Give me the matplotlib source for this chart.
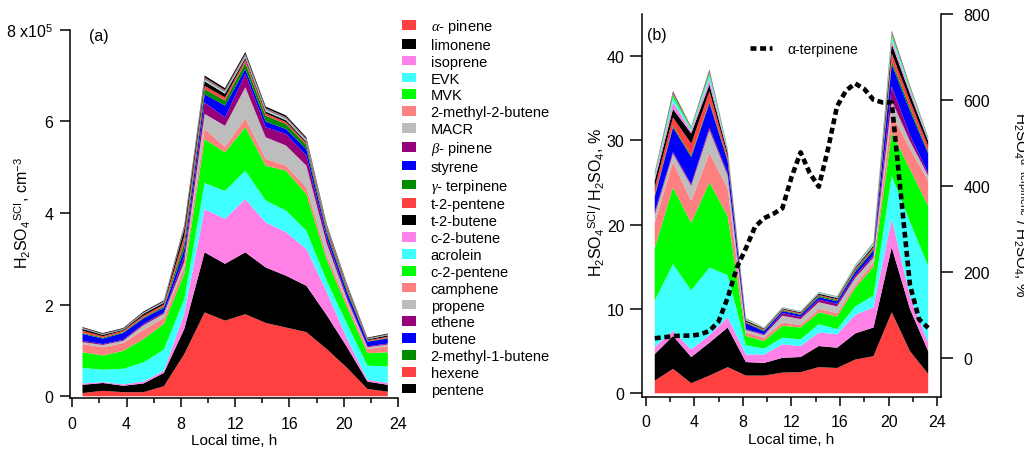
import numpy as np
import matplotlib
matplotlib.use('Agg')
import matplotlib.pyplot as plt
from matplotlib.patches import Patch
from matplotlib.lines import Line2D
from matplotlib.ticker import MultipleLocator

plt.rcParams['font.family'] = ['Liberation Sans', 'DejaVu Sans']
plt.rcParams['mathtext.fontset'] = 'custom'
plt.rcParams['mathtext.rm'] = 'Liberation Sans'
plt.rcParams['mathtext.it'] = 'Liberation Serif:italic'
plt.rcParams['mathtext.bf'] = 'Liberation Sans:bold'
plt.rcParams['mathtext.sf'] = 'Liberation Sans'

# ---------------- data ----------------
hours = [0.75, 2.25, 3.75, 5.25, 6.75, 8.25, 9.75, 11.25, 12.75, 14.25, 15.75, 17.25, 18.75, 20.25, 21.75, 23.25]

species = [r'$\alpha$- pinene', 'limonene', 'isoprene', 'EVK', 'MVK', '2-methyl-2-butene', 'MACR',
           r'$\beta$- pinene', 'styrene', r'$\gamma$- terpinene', 't-2-pentene', 't-2-butene',
           'c-2-butene', 'acrolein', 'c-2-pentene', 'camphene', 'propene', 'ethene', 'butene',
           '2-methyl-1-butene', 'hexene', 'pentene']

colors = ['#ff4040', '#000000', '#ff80e6', '#40ffff', '#00ff00', '#ff8080', '#bdbdbd', '#960078',
          '#0000ff', '#008c00', '#ff4040', '#000000', '#ff80e6', '#40ffff', '#00ff00', '#ff8080',
          '#bdbdbd', '#960078', '#0000ff', '#008c00', '#ff4040', '#000000']

# Panel (a): H2SO4 from SCI, units of 1e5 cm^-3
a_alpha_pinene = [0.07, 0.12, 0.09, 0.09, 0.22, 0.92, 1.83, 1.65, 1.79, 1.60, 1.50, 1.40, 1.03, 0.62, 0.16, 0.10]
a_limonene     = [0.18, 0.17, 0.14, 0.19, 0.29, 0.55, 1.31, 1.24, 1.35, 1.21, 1.13, 1.01, 0.74, 0.45, 0.16, 0.15]
a_isoprene     = [0.03, 0.02, 0.03, 0.04, 0.05, 0.33, 0.94, 0.98, 1.16, 0.98, 0.95, 0.80, 0.51, 0.18, 0.04, 0.04]
a_evk          = [0.34, 0.27, 0.34, 0.42, 0.46, 0.32, 0.57, 0.61, 0.62, 0.48, 0.47, 0.40, 0.24, 0.33, 0.31, 0.36]
a_mvk          = [0.34, 0.31, 0.39, 0.51, 0.56, 0.55, 0.96, 0.84, 0.95, 0.76, 0.87, 0.80, 0.46, 0.36, 0.27, 0.31]
a_2m2b         = [0.18, 0.18, 0.17, 0.20, 0.13, 0.15, 0.22, 0.12, 0.19, 0.15, 0.11, 0.15, 0.10, 0.09, 0.09, 0.13]
a_macr         = [0.04, 0.05, 0.05, 0.10, 0.09, 0.11, 0.33, 0.46, 0.68, 0.47, 0.44, 0.47, 0.25, 0.08, 0.04, 0.04]
a_beta_pinene  = [0.03, 0.02, 0.02, 0.03, 0.03, 0.12, 0.25, 0.18, 0.29, 0.22, 0.25, 0.22, 0.12, 0.05, 0.02, 0.02]
a_styrene      = [0.15, 0.12, 0.15, 0.12, 0.10, 0.16, 0.18, 0.26, 0.11, 0.12, 0.11, 0.14, 0.10, 0.11, 0.10, 0.11]
a_gamma_terp   = [0.02, 0.02, 0.02, 0.02, 0.03, 0.14, 0.11, 0.11, 0.13, 0.13, 0.11, 0.09, 0.06, 0.05, 0.01, 0.01]
a_t2pentene    = [0.05, 0.03, 0.03, 0.04, 0.04, 0.15, 0.07, 0.07, 0.07, 0.05, 0.04, 0.04, 0.04, 0.04, 0.02, 0.03]
a_t2butene     = [0.04, 0.03, 0.02, 0.04, 0.04, 0.14, 0.10, 0.08, 0.04, 0.04, 0.04, 0.03, 0.03, 0.03, 0.02, 0.03]
a_c2butene     = [0.004, 0.004, 0.004, 0.005, 0.005, 0.008, 0.012, 0.012, 0.013, 0.011, 0.010, 0.010, 0.007, 0.005, 0.004, 0.004]
a_acrolein     = [0.003, 0.003, 0.003, 0.004, 0.004, 0.007, 0.010, 0.010, 0.011, 0.009, 0.009, 0.008, 0.006, 0.004, 0.003, 0.003]
a_c2pentene    = [0.003, 0.003, 0.003, 0.004, 0.004, 0.007, 0.010, 0.009, 0.010, 0.009, 0.008, 0.008, 0.006, 0.004, 0.003, 0.003]
a_camphene     = [0.002, 0.002, 0.002, 0.003, 0.003, 0.005, 0.008, 0.008, 0.009, 0.007, 0.007, 0.006, 0.005, 0.003, 0.002, 0.002]
a_propene      = [0.002, 0.002, 0.002, 0.003, 0.003, 0.005, 0.007, 0.007, 0.008, 0.007, 0.006, 0.006, 0.004, 0.003, 0.002, 0.002]
a_ethene       = [0.003, 0.003, 0.003, 0.004, 0.004, 0.008, 0.012, 0.011, 0.012, 0.010, 0.010, 0.009, 0.006, 0.004, 0.003, 0.003]
a_butene       = [0.002, 0.002, 0.002, 0.003, 0.003, 0.005, 0.007, 0.007, 0.008, 0.006, 0.006, 0.006, 0.004, 0.003, 0.002, 0.002]
a_2m1b         = [0.002, 0.002, 0.002, 0.003, 0.003, 0.005, 0.007, 0.007, 0.007, 0.006, 0.006, 0.005, 0.004, 0.003, 0.002, 0.002]
a_hexene       = [0.003, 0.003, 0.003, 0.004, 0.004, 0.008, 0.012, 0.011, 0.012, 0.010, 0.009, 0.009, 0.006, 0.004, 0.003, 0.003]
a_pentene      = [0.015, 0.015, 0.015, 0.018, 0.018, 0.030, 0.040, 0.040, 0.040, 0.035, 0.035, 0.030, 0.025, 0.020, 0.015, 0.015]

# Panel (b): H2SO4_SCI / H2SO4, %
b_alpha_pinene = [1.5, 2.9, 1.2, 2.1, 3.1, 2.1, 2.1, 2.45, 2.5, 3.1, 3.0, 4.0, 4.4, 9.6, 5.0, 2.3]
b_limonene     = [3.15, 3.9, 3.1, 3.9, 4.7, 1.6, 1.5, 1.75, 1.8, 2.5, 2.4, 3.1, 3.4, 7.7, 5.0, 2.7]
b_isoprene     = [0.85, 0.6, 0.9, 0.9, 1.2, 0.9, 1.0, 1.6, 1.3, 1.6, 1.6, 2.2, 2.4, 3.4, 1.5, 1.0]
b_evk          = [5.5, 7.9, 7.0, 8.0, 5.0, 1.1, 0.7, 0.8, 0.8, 1.0, 0.6, 1.0, 1.4, 5.1, 8.8, 9.1]
b_mvk          = [6.2, 9.1, 8.0, 10.1, 7.0, 1.1, 0.9, 1.4, 1.4, 1.4, 1.5, 2.2, 3.4, 5.1, 6.3, 7.1]
b_2m2b         = [3.0, 3.0, 2.6, 3.5, 3.3, 0.4, 0.4, 0.4, 0.3, 0.4, 0.4, 0.4, 0.5, 2.2, 2.4, 3.0]
b_macr         = [1.0, 1.0, 1.8, 2.7, 1.5, 0.3, 0.3, 0.8, 0.7, 0.8, 0.8, 0.8, 0.6, 1.6, 0.9, 0.6]
b_beta_pinene  = [0.3, 0.2, 0.2, 0.3, 0.3, 0.1, 0.1, 0.3, 0.25, 0.3, 0.3, 0.3, 0.3, 1.7, 0.7, 0.3]
b_styrene      = [1.8, 2.9, 3.2, 2.9, 1.4, 0.7, 0.35, 0.25, 0.25, 0.3, 0.3, 0.4, 0.5, 2.6, 2.9, 2.3]
b_gamma_terp   = [0.2, 0.2, 0.2, 0.2, 0.2, 0.1, 0.1, 0.1, 0.1, 0.15, 0.15, 0.2, 0.2, 0.4, 0.4, 0.2]
b_t2pentene    = [0.9, 1.0, 1.4, 1.2, 0.4, 0.1, 0.1, 0.1, 0.1, 0.1, 0.1, 0.15, 0.2, 0.9, 0.8, 0.7]
b_t2butene     = [0.8, 1.0, 1.2, 0.8, 0.4, 0.15, 0.1, 0.1, 0.1, 0.15, 0.15, 0.15, 0.2, 1.1, 0.8, 0.6]
b_c2butene     = [0.4, 0.8, 0.3, 0.6, 0.2, 0.07, 0.05, 0.05, 0.05, 0.06, 0.06, 0.08, 0.1, 0.5, 0.4, 0.2]
b_acrolein     = [0.2, 0.5, 0.2, 0.5, 0.1, 0.06, 0.04, 0.04, 0.04, 0.06, 0.06, 0.08, 0.1, 0.4, 0.2, 0.1]
b_c2pentene    = [0.2, 0.4, 0.15, 0.3, 0.1, 0.06, 0.03, 0.03, 0.03, 0.04, 0.04, 0.07, 0.1, 0.3, 0.2, 0.1]
b_camphene     = [0.02, 0.04, 0.015, 0.04, 0.01, 0.006, 0.003, 0.003, 0.003, 0.004, 0.004, 0.007, 0.01, 0.04, 0.02, 0.01]
b_propene      = [0.02, 0.045, 0.015, 0.04, 0.01, 0.006, 0.003, 0.003, 0.003, 0.004, 0.004, 0.007, 0.01, 0.04, 0.02, 0.01]
b_ethene       = [0.08, 0.18, 0.06, 0.16, 0.04, 0.024, 0.012, 0.012, 0.012, 0.016, 0.016, 0.028, 0.04, 0.16, 0.08, 0.04]
b_butene       = [0.02, 0.04, 0.015, 0.04, 0.01, 0.006, 0.003, 0.003, 0.003, 0.004, 0.004, 0.007, 0.01, 0.04, 0.02, 0.01]
b_2m1b         = [0.02, 0.045, 0.015, 0.04, 0.01, 0.006, 0.003, 0.003, 0.003, 0.004, 0.004, 0.007, 0.01, 0.04, 0.02, 0.01]
b_hexene       = [0.02, 0.04, 0.015, 0.04, 0.01, 0.006, 0.003, 0.003, 0.003, 0.004, 0.004, 0.007, 0.01, 0.04, 0.02, 0.01]
b_pentene      = [0.02, 0.045, 0.015, 0.04, 0.01, 0.006, 0.003, 0.003, 0.003, 0.004, 0.004, 0.007, 0.01, 0.04, 0.02, 0.01]

# alpha-terpinene contribution, % (right axis)
terp_hours = [0.75, 1.5, 2.25, 3.0, 3.75, 4.5, 5.25, 6.0, 6.75, 7.5, 8.25, 9.0, 9.75, 10.5, 11.25, 12.0,
              12.75, 13.5, 14.25, 15.0, 15.75, 16.5, 17.25, 18.0, 18.75, 19.5, 20.25, 21.0, 21.75, 22.5, 23.25]
terp_values = [46, 48, 51, 52, 52, 55, 63, 85, 140, 210, 255, 305, 325, 335, 348, 420,
               478, 430, 398, 485, 585, 622, 638, 625, 600, 594, 594, 380, 170, 90, 70]

a_series = [a_alpha_pinene, a_limonene, a_isoprene, a_evk, a_mvk, a_2m2b, a_macr, a_beta_pinene,
            a_styrene, a_gamma_terp, a_t2pentene, a_t2butene, a_c2butene, a_acrolein, a_c2pentene,
            a_camphene, a_propene, a_ethene, a_butene, a_2m1b, a_hexene, a_pentene]
b_series = [b_alpha_pinene, b_limonene, b_isoprene, b_evk, b_mvk, b_2m2b, b_macr, b_beta_pinene,
            b_styrene, b_gamma_terp, b_t2pentene, b_t2butene, b_c2butene, b_acrolein, b_c2pentene,
            b_camphene, b_propene, b_ethene, b_butene, b_2m1b, b_hexene, b_pentene]

# ---------------- figure ----------------
W, H = 1024, 452
fig = plt.figure(figsize=(W / 100, H / 100), dpi=100)


def px_axes(left, top, right, bottom):
    return [left / W, (H - bottom) / H, (right - left) / W, (bottom - top) / H]


FS = 11.5

# Panel (a)
axa = fig.add_axes(px_axes(70, 30.5, 398, 399.3))
axa.stackplot(hours, *a_series, colors=colors, linewidth=0)
axa.set_xlim(-0.17, 24)
axa.set_ylim(-0.044, 8)
for s in ['top', 'right']:
    axa.spines[s].set_visible(False)
for s in ['left', 'bottom']:
    axa.spines[s].set_linewidth(1.1)
axa.set_xticks([0, 4, 8, 12, 16, 20, 24])
axa.xaxis.set_minor_locator(MultipleLocator(2))
axa.set_yticks([0, 2, 4, 6, 8])
axa.set_yticklabels(['0', '2', '4', '6', r'8 x10$^5$'])
axa.tick_params(axis='y', direction='out', length=7, width=1.1, labelsize=FS, pad=5)
axa.tick_params(axis='x', which='major', direction='out', length=6.5, width=1.1, labelsize=FS, pad=6)
axa.tick_params(axis='x', which='minor', direction='out', length=3.3, width=1.1)
axa.set_xlabel('Local time, h', fontsize=FS - 0.5, labelpad=2)
axa.text(0.058, 0.984, '(a)', transform=axa.transAxes, fontsize=FS, ha='left', va='center')
fig.text(22.5 / W, (H - 212.5) / H, r'H$_2$SO$_4$$^{\mathrm{SCI}}$, cm$^{-3}$', rotation=90,
         ha='center', va='center', fontsize=FS)

handles = [Patch(facecolor=c, edgecolor='none') for c in colors]
fig.legend(handles, species, loc='upper left', bbox_to_anchor=(402 / W, (H - 18) / H),
           frameon=False, fontsize=10.5, handlelength=0.96, handleheight=0.64, handletextpad=1.0,
           labelspacing=0.195, borderpad=0, borderaxespad=0)

# Panel (b)
axb = fig.add_axes(px_axes(642, 14.8, 940.7, 398))
axb.stackplot(hours, *b_series, colors=colors, linewidth=0)
axb.set_xlim(-0.3, 24.28)
axb.set_ylim(-0.44, 44.98)
for s in ['top', 'right']:
    axb.spines[s].set_visible(False)
for s in ['left', 'bottom']:
    axb.spines[s].set_linewidth(1.1)
axb.set_xticks([0, 4, 8, 12, 16, 20, 24])
axb.xaxis.set_minor_locator(MultipleLocator(2))
axb.set_yticks([0, 10, 20, 30, 40])
axb.tick_params(axis='y', direction='out', length=8.5, width=1.1, labelsize=FS, pad=4)
axb.tick_params(axis='x', which='major', direction='out', length=6.5, width=1.1, labelsize=FS, pad=6)
axb.tick_params(axis='x', which='minor', direction='out', length=3.3, width=1.1)
axb.set_xlabel('Local time, h', fontsize=FS - 0.5, labelpad=2)
axb.text(0.017, 0.947, '(b)', transform=axb.transAxes, fontsize=FS, ha='left', va='center')
fig.text(597 / W, (H - 202) / H, r'H$_2$SO$_4$$^{\mathrm{SCI}}$/ H$_2$SO$_4$, %', rotation=90,
         ha='center', va='center', fontsize=FS)

ax2 = axb.twinx()
ax2.plot(terp_hours, terp_values, color='black', lw=3.3, linestyle=(0, (1.3, 0.8)),
         dash_capstyle='butt', label='α-terpinene')
ax2.set_ylim(-90.6, 800)
for s in ['top', 'left', 'bottom']:
    ax2.spines[s].set_visible(False)
ax2.spines['right'].set_linewidth(1.1)
ax2.set_yticks([0, 200, 400, 600, 800])
ax2.tick_params(axis='y', direction='out', length=8.5, width=1.1, labelsize=FS, pad=8)
fig.text(1010 / W, (H - 205) / H,
         r'H$_2$SO$_4$$^{\mathrm{\alpha{-}terpinene}}$ / H$_2$SO$_4$, %', rotation=-90,
         ha='left', va='center', fontsize=FS - 0.5)

fig.legend(handles=[Line2D([], [], color='black', lw=3.3, linestyle=(0, (1.3, 0.8)), dash_capstyle='butt')],
           labels=['α-terpinene'], loc='center left', bbox_to_anchor=(750 / W, (H - 50) / H),
           frameon=False, fontsize=10, handlelength=1.6, handletextpad=1.1, borderpad=0, borderaxespad=0)

fig.savefig('out.png', dpi=100)
